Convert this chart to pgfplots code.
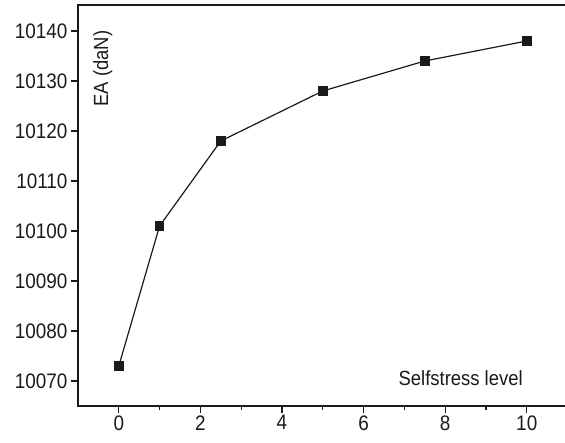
\documentclass[border=0pt]{standalone}
\usepackage{fontspec}
\setmainfont{Liberation Sans}[FakeStretch=0.9]
\usepackage{pgfplots}
\pgfplotsset{compat=1.18}

\definecolor{ink}{HTML}{1A1A1A}

\begin{document}
\begin{tikzpicture}
\begin{axis}[
    scale only axis,
    width=492pt, height=401pt,
    xmin=-1, xmax=11.06,
    ymin=10065, ymax=10145.2,
    xtick={0,2,...,10},
    ytick={10070,10080,...,10140},
    scaled y ticks=false,
    minor x tick num=1,
    minor y tick num=1,
    xtick pos=bottom, ytick pos=left,
    tick align=outside,
    major tick length=7pt,
    minor tick length=4pt,
    axis line style={ink, line width=1.4pt},
    every tick/.style={ink, line width=1.2pt},
    tick label style={font=\fontsize{21}{25}\selectfont, text=ink},
    xticklabel style={yshift=1pt},
    /pgf/number format/assume math mode=true,
    /pgf/number format/1000 sep={},
    yticklabel={\pgfmathprintnumber[fixed,precision=0,1000 sep={}]{\tick}},
    clip=false,
]
\addplot[ink, line width=1.2pt, mark=square*, mark size=4.3pt,
         mark options={fill=ink, draw=ink}]
    coordinates {(0,10073) (1,10101) (2.5,10118) (5,10128) (7.5,10134) (10,10138)};
\node[rotate=90, font=\fontsize{20.5}{24}\selectfont, text=ink]
    at (axis cs:-0.39,10132.5) {EA (daN)};
\node[font=\fontsize{20.5}{24}\selectfont, text=ink]
    at (axis cs:8.38,10070.5) {Selfstress level};
\end{axis}
\pgfresetboundingbox
\path (-78pt,-37pt) rectangle (487pt,406pt);
\end{tikzpicture}
\end{document}
